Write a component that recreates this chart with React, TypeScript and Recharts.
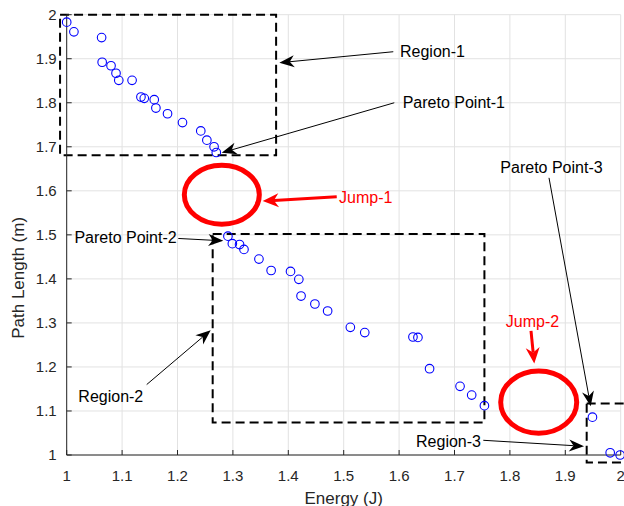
import {
  ScatterChart,
  Scatter,
  XAxis,
  YAxis,
  CartesianGrid,
  ReferenceArea,
  ReferenceLine,
} from "recharts";

const FONT = '"Liberation Sans", Arial, Helvetica, sans-serif';
const AXIS_COLOR = "#262626";

// Pareto front points
const energy = [
  1.0, 1.013, 1.063, 1.064, 1.08, 1.089, 1.094, 1.118, 1.134, 1.14, 1.158,
  1.161, 1.182, 1.209, 1.242, 1.253, 1.266, 1.27, 1.291, 1.299, 1.312, 1.32,
  1.347, 1.369, 1.404, 1.419, 1.423, 1.448, 1.471, 1.512, 1.538, 1.625, 1.634,
  1.655, 1.71, 1.731, 1.754, 1.949, 1.981, 1.999,
];
const pathLength = [
  1.983, 1.961, 1.948, 1.892, 1.884, 1.867, 1.851, 1.851, 1.813, 1.81, 1.807,
  1.788, 1.775, 1.755, 1.736, 1.715, 1.7, 1.687, 1.497, 1.48, 1.478, 1.467,
  1.445, 1.419, 1.417, 1.399, 1.361, 1.343, 1.327, 1.29, 1.278, 1.268, 1.267,
  1.196, 1.156, 1.136, 1.112, 1.086, 1.005, 1.0,
];

const xTicks = [1, 1.1, 1.2, 1.3, 1.4, 1.5, 1.6, 1.7, 1.8, 1.9, 2];
const yTicks = [1, 1.1, 1.2, 1.3, 1.4, 1.5, 1.6, 1.7, 1.8, 1.9, 2];

// dashed region boxes (data coords)
const regions = [
  { x1: 0.988, x2: 1.378, y1: 1.681, y2: 2.0 },
  { x1: 1.2635, x2: 1.754, y1: 1.074, y2: 1.502 },
  { x1: 1.9386, x2: 2.03, y1: 0.983, y2: 1.117 },
];

// red "jump" ellipses, given by their bounding boxes
const jumps = [
  { x1: 1.2123, x2: 1.3477, y1: 1.524, y2: 1.658 },
  { x1: 1.7834, x2: 1.9206, y1: 1.0495, y2: 1.1905 },
];

// text arrows: tail -> head in data coords
const arrows = [
  { text: "Region-1", from: [1.5895, 1.9159], to: [1.3838, 1.8909], anchor: "start", dx: 6.7, dy: 5.3, red: false },
  { text: "Pareto Point-1", from: [1.5913, 1.8], to: [1.2798, 1.6864], anchor: "start", dx: 8.4, dy: 5.3, red: false },
  { text: "Pareto Point-2", from: [1.2014, 1.4918], to: [1.2827, 1.4864], anchor: "end", dx: -1.6, dy: 4.7, red: false },
  { text: "Region-2", from: [1.1444, 1.16], to: [1.2599, 1.2834], anchor: "middle", dx: -35.9, dy: 17.4, red: false },
  { text: "Pareto Point-3", from: [1.8706, 1.6295], to: [1.9458, 1.1107], anchor: "middle", dx: 2.5, dy: -5, red: false },
  { text: "Region-3", from: [1.752, 1.0334], to: [1.9338, 1.0198], anchor: "end", dx: -2.3, dy: 6.7, red: false },
  { text: "Jump-1", from: [1.4874, 1.5864], to: [1.3538, 1.5766], anchor: "start", dx: 2.3, dy: 6.3, red: true },
  { text: "Jump-2", from: [1.8381, 1.2818], to: [1.844, 1.2077], anchor: "middle", dx: 1.5, dy: -3.7, red: true },
];

const points = energy.map((e, i) => ({ energy: e, path: pathLength[i] }));

const Ring = (p: any) => (
  <circle cx={p.cx} cy={p.cy} r={4.3} fill="none" stroke="#0000ff" strokeWidth={1.1} />
);

const ellipseShape = (p: any) => {
  const w = Math.abs(p.width);
  const h = Math.abs(p.height);
  const x = Math.min(p.x, p.x + p.width);
  const y = Math.min(p.y, p.y + p.height);
  return (
    <ellipse
      cx={x + w / 2}
      cy={y + h / 2}
      rx={w / 2}
      ry={h / 2}
      fill="none"
      stroke="#ff0000"
      strokeWidth={5}
    />
  );
};

function arrowShape(a: (typeof arrows)[number]) {
  return (p: any) => {
    const { x1, y1, x2, y2 } = p;
    const color = a.red ? "#ff0000" : "#000000";
    const len = Math.hypot(x2 - x1, y2 - y1) || 1;
    const ux = (x2 - x1) / len;
    const uy = (y2 - y1) / len;
    const nx = -uy;
    const ny = ux;
    const L = a.red ? 16 : 15;
    const W = a.red ? 14 : 12;
    const bx = x2 - ux * L;
    const by = y2 - uy * L;
    const mx = x2 - ux * L * 0.7;
    const my = y2 - uy * L * 0.7;
    const pts = `${x2},${y2} ${bx + (nx * W) / 2},${by + (ny * W) / 2} ${mx},${my} ${bx - (nx * W) / 2},${by - (ny * W) / 2}`;
    return (
      <g>
        <line x1={x1} y1={y1} x2={mx} y2={my} stroke={color} strokeWidth={a.red ? 3 : 1} />
        <polygon points={pts} fill={color} />
        <text
          x={x1 + a.dx}
          y={y1 + a.dy}
          textAnchor={a.anchor as any}
          fontSize={16}
          fontFamily={FONT}
          fill={color}
        >
          {a.text}
        </text>
      </g>
    );
  };
}

const YTitle = (props: any) => {
  const vb = props.viewBox || { x: 6.7, y: 14.7, width: 60, height: 440 };
  const x = vb.x + 17.3;
  const y = vb.y + vb.height / 2 + 43;
  return (
    <text
      x={x}
      y={y}
      transform={`rotate(-90 ${x} ${y})`}
      textAnchor="middle"
      fontSize={17}
      fontFamily={FONT}
      fill={AXIS_COLOR}
    >
      Path Length (m)
    </text>
  );
};

const tickStyle = { fill: AXIS_COLOR, fontSize: 15, fontFamily: FONT };

export default function App() {
  return (
    <div style={{ position: "absolute", left: 0, top: 0, background: "#fff" }}>
      <ScatterChart
        width={624}
        height={506}
        margin={{ top: 14.7, right: 3.3, bottom: 21, left: 6.7 }}
      >
        <CartesianGrid stroke="#e2e2e2" strokeWidth={1} />
        <XAxis
          type="number"
          dataKey="energy"
          domain={[1, 2]}
          ticks={xTicks}
          interval={0}
          height={30}
          tickSize={-5}
          tickMargin={20}
          tick={tickStyle}
          stroke={AXIS_COLOR}
          label={{
            value: "Energy (J)",
            position: "bottom",
            offset: 7,
            fill: AXIS_COLOR,
            fontSize: 17,
            fontFamily: FONT,
          }}
        />
        <XAxis
          xAxisId="top"
          orientation="top"
          type="number"
          domain={[1, 2]}
          ticks={xTicks}
          interval={0}
          height={0}
          tickSize={-5}
          tick={false}
          stroke={AXIS_COLOR}
        />
        <YAxis
          type="number"
          dataKey="path"
          domain={[1, 2]}
          ticks={yTicks}
          interval={0}
          width={60}
          tickSize={-5}
          tickMargin={15}
          tick={tickStyle}
          stroke={AXIS_COLOR}
          label={{ content: YTitle }}
        />
        <YAxis
          yAxisId="right"
          orientation="right"
          type="number"
          domain={[1, 2]}
          ticks={yTicks}
          interval={0}
          width={0}
          tickSize={-5}
          tick={false}
          stroke={AXIS_COLOR}
        />
        {regions.map((r, i) => (
          <ReferenceArea
            key={`reg-${i}`}
            x1={r.x1}
            x2={r.x2}
            y1={r.y1}
            y2={r.y2}
            ifOverflow="visible"
            fill="none"
            fillOpacity={0}
            stroke="#000"
            strokeWidth={2}
            strokeDasharray="9 5"
          />
        ))}
        {jumps.map((j, i) => (
          <ReferenceArea
            key={`jump-${i}`}
            x1={j.x1}
            x2={j.x2}
            y1={j.y1}
            y2={j.y2}
            ifOverflow="visible"
            shape={ellipseShape}
          />
        ))}
        <Scatter data={points} shape={Ring} isAnimationActive={false} />
        {arrows.map((a) => (
          <ReferenceLine
            key={a.text}
            segment={[
              { x: a.from[0], y: a.from[1] },
              { x: a.to[0], y: a.to[1] },
            ]}
            ifOverflow="visible"
            shape={arrowShape(a)}
          />
        ))}
      </ScatterChart>
    </div>
  );
}
